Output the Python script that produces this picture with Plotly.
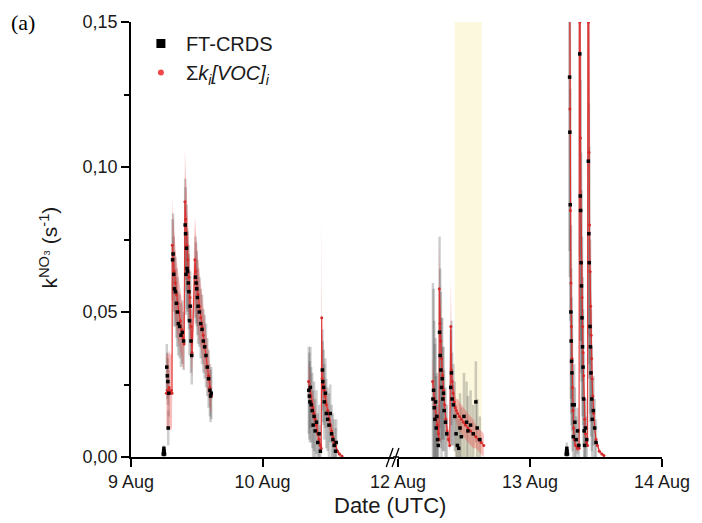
import plotly.graph_objects as go

# ---------------- data (day of August, UTC) ----------------
# Sum k_i[VOC]_i  (model line + uncertainty)
t_voc_09 = [9.269, 9.276, 9.283, 9.290, 9.298, 9.306, 9.312,
            9.314, 9.320, 9.328, 9.336, 9.345, 9.355, 9.365, 9.375, 9.385, 9.395, 9.404,
            9.410, 9.415, 9.420, 9.425, 9.432, 9.440, 9.448, 9.456, 9.464,
            9.486, 9.492, 9.500, 9.510, 9.520, 9.530, 9.540, 9.550, 9.560, 9.570, 9.580, 9.590, 9.600, 9.612]
k_voc_09 = [0.022, 0.023, 0.022, 0.024, 0.022, 0.023, 0.022,
            0.073, 0.068, 0.064, 0.060, 0.056, 0.053, 0.050, 0.047, 0.044, 0.041, 0.039,
            0.088, 0.082, 0.077, 0.073, 0.068, 0.062, 0.055, 0.045, 0.036,
            0.068, 0.064, 0.060, 0.056, 0.052, 0.048, 0.045, 0.042, 0.038, 0.035, 0.031, 0.028, 0.024, 0.021]
u_voc_09 = [0.013, 0.013, 0.013, 0.013, 0.013, 0.013, 0.013,
            0.016, 0.015, 0.014, 0.013, 0.012, 0.012, 0.011, 0.011, 0.010, 0.010, 0.009,
            0.018, 0.017, 0.016, 0.015, 0.014, 0.013, 0.012, 0.010, 0.009,
            0.015, 0.014, 0.013, 0.012, 0.012, 0.011, 0.010, 0.010, 0.009, 0.008, 0.008, 0.007, 0.007, 0.006]

t_voc_10 = [10.350, 10.358, 10.366, 10.374, 10.382, 10.390, 10.400, 10.410, 10.420, 10.430, 10.440, 10.446,
            10.450, 10.453, 10.460, 10.468, 10.476, 10.485, 10.495, 10.505, 10.515, 10.525, 10.535, 10.545,
            10.555, 10.570, 10.585, 10.605]
k_voc_10 = [0.026, 0.024, 0.021, 0.019, 0.017, 0.015, 0.013, 0.011, 0.008, 0.006, 0.004, 0.003,
            0.048, 0.027, 0.025, 0.023, 0.021, 0.018, 0.016, 0.013, 0.011, 0.009, 0.007, 0.005,
            0.004, 0.002, 0.001, 0.0003]
u_voc_10 = [0.006, 0.006, 0.005, 0.005, 0.005, 0.004, 0.004, 0.004, 0.003, 0.003, 0.002, 0.002,
            0.035, 0.006, 0.006, 0.005, 0.005, 0.005, 0.004, 0.004, 0.003, 0.003, 0.003, 0.002,
            0.002, 0.001, 0.001, 0.0005]

t_voc_12 = [12.262, 12.268, 12.275, 12.282, 12.290, 12.298, 12.306, 12.311,
            12.313, 12.318, 12.324, 12.330, 12.337, 12.345, 12.353, 12.362, 12.372, 12.382, 12.392,
            12.400, 12.404, 12.410, 12.418, 12.426, 12.434, 12.442,
            12.452, 12.465, 12.480, 12.495, 12.510, 12.530, 12.550, 12.570, 12.590, 12.610, 12.630, 12.650]
k_voc_12 = [0.026, 0.023, 0.020, 0.017, 0.014, 0.011, 0.008, 0.006,
            0.058, 0.046, 0.040, 0.034, 0.028, 0.023, 0.018, 0.013, 0.009, 0.006, 0.004,
            0.045, 0.030, 0.026, 0.022, 0.019, 0.017, 0.016,
            0.015, 0.014, 0.013, 0.012, 0.011, 0.010, 0.009, 0.008, 0.007, 0.006, 0.005, 0.004]
u_voc_12 = [0.008, 0.007, 0.006, 0.005, 0.004, 0.004, 0.003, 0.003,
            0.016, 0.010, 0.008, 0.007, 0.006, 0.005, 0.004, 0.003, 0.003, 0.002, 0.002,
            0.016, 0.006, 0.005, 0.005, 0.004, 0.004, 0.004,
            0.005, 0.005, 0.005, 0.005, 0.005, 0.005, 0.005, 0.005, 0.004, 0.004, 0.004, 0.004]

t_voc_13 = [13.298, 13.302, 13.306, 13.310, 13.314, 13.318, 13.322, 13.326, 13.330, 13.336, 13.345, 13.360, 13.372,
            13.375, 13.378, 13.382, 13.386, 13.390, 13.394, 13.398, 13.402, 13.406, 13.410, 13.414, 13.420, 13.428, 13.436,
            13.440, 13.443, 13.447, 13.451, 13.455, 13.459, 13.463, 13.467, 13.471, 13.476, 13.482, 13.490, 13.500,
            13.510, 13.525, 13.545, 13.560]
k_voc_13 = [0.200, 0.120, 0.085, 0.060, 0.045, 0.034, 0.024, 0.016, 0.010, 0.006, 0.004, 0.003, 0.003,
            0.250, 0.150, 0.110, 0.085, 0.067, 0.055, 0.045, 0.036, 0.028, 0.020, 0.013, 0.008, 0.005, 0.004,
            0.220, 0.150, 0.105, 0.080, 0.064, 0.052, 0.042, 0.034, 0.027, 0.021, 0.015, 0.010, 0.006,
            0.004, 0.002, 0.001, 0.0005]
u_voc_13 = [0.040, 0.025, 0.018, 0.013, 0.010, 0.008, 0.006, 0.004, 0.003, 0.002, 0.002, 0.001, 0.001,
            0.050, 0.030, 0.022, 0.017, 0.014, 0.011, 0.009, 0.007, 0.006, 0.004, 0.003, 0.002, 0.001, 0.001,
            0.045, 0.030, 0.021, 0.016, 0.013, 0.010, 0.008, 0.007, 0.005, 0.004, 0.003, 0.002, 0.001,
            0.001, 0.001, 0.0005, 0.0003]

# FT-CRDS measurements
t_ft_09 = [9.245, 9.248, 9.250, 9.252, 9.255,
           9.272, 9.276, 9.280, 9.283, 9.287,
           9.316, 9.320, 9.325, 9.330, 9.338, 9.345, 9.352, 9.360, 9.370, 9.380, 9.390, 9.400,
           9.412, 9.415, 9.418, 9.422, 9.426, 9.430, 9.436, 9.440, 9.445, 9.450, 9.456, 9.462,
           9.490, 9.495, 9.500, 9.505, 9.510, 9.520, 9.530, 9.540, 9.550, 9.560, 9.570, 9.580, 9.590, 9.600, 9.605, 9.610]
k_ft_09 = [0.001, 0.002, 0.003, 0.002, 0.001,
           0.031, 0.028, 0.026, 0.010, 0.022,
           0.068, 0.070, 0.063, 0.058, 0.057, 0.053, 0.050, 0.046, 0.045, 0.042, 0.043, 0.040,
           0.080, 0.077, 0.063, 0.072, 0.065, 0.064, 0.060, 0.057, 0.047, 0.052, 0.040, 0.035,
           0.062, 0.060, 0.058, 0.055, 0.052, 0.050, 0.046, 0.044, 0.040, 0.038, 0.035, 0.031, 0.027, 0.023, 0.021, 0.022]
u_ft_09 = [0.001, 0.001, 0.001, 0.001, 0.001,
           0.008, 0.008, 0.008, 0.006, 0.008,
           0.014, 0.014, 0.013, 0.013, 0.012, 0.012, 0.012, 0.011, 0.011, 0.011, 0.011, 0.010,
           0.016, 0.016, 0.014, 0.015, 0.014, 0.014, 0.013, 0.013, 0.012, 0.012, 0.011, 0.010,
           0.014, 0.014, 0.013, 0.013, 0.013, 0.012, 0.012, 0.012, 0.011, 0.011, 0.011, 0.010, 0.010, 0.009, 0.009, 0.009]

t_ft_10 = [10.352, 10.356, 10.360, 10.364, 10.370, 10.378, 10.385, 10.392, 10.400, 10.410, 10.420, 10.430, 10.440,
           10.455, 10.458, 10.465, 10.470, 10.478, 10.485, 10.495, 10.505, 10.515, 10.525, 10.535, 10.545, 10.555, 10.560]
k_ft_10 = [0.023, 0.021, 0.019, 0.024, 0.018, 0.016, 0.011, 0.014, 0.009, 0.012, 0.005, 0.008, 0.002,
           0.030, 0.026, 0.024, 0.019, 0.022, 0.015, 0.013, 0.011, 0.015, 0.008, 0.006, 0.004, 0.002, 0.005]
u_ft_10 = [0.015, 0.015, 0.014, 0.014, 0.013, 0.013, 0.012, 0.012, 0.011, 0.011, 0.010, 0.010, 0.009,
           0.014, 0.014, 0.013, 0.013, 0.012, 0.012, 0.011, 0.011, 0.010, 0.010, 0.009, 0.009, 0.008, 0.008]

t_ft_12 = [12.265, 12.270, 12.275, 12.280, 12.285, 12.290, 12.295, 12.300, 12.305,
           12.315, 12.320, 12.325, 12.330, 12.335, 12.340, 12.345, 12.350, 12.360, 12.370,
           12.400, 12.405, 12.410, 12.420, 12.430,
           12.440, 12.450, 12.460, 12.470, 12.480, 12.500, 12.520, 12.530, 12.550, 12.570, 12.590, 12.600, 12.620]
k_ft_12 = [0.020, 0.023, 0.017, 0.013, 0.019, 0.010, 0.014, 0.006, 0.004,
           0.043, 0.035, 0.030, 0.024, 0.027, 0.020, 0.022, 0.016, 0.012, 0.008,
           0.024, 0.029, 0.020, 0.018, 0.014,
           0.008, 0.004, 0.003, 0.010, 0.007, 0.014, 0.012, 0.009, 0.011, 0.008, 0.019, 0.010, 0.006]
u_ft_12 = [0.040, 0.035, 0.030, 0.026, 0.022, 0.018, 0.015, 0.012, 0.010,
           0.033, 0.030, 0.027, 0.024, 0.021, 0.018, 0.016, 0.014, 0.012, 0.010,
           0.020, 0.018, 0.016, 0.014, 0.012,
           0.010, 0.010, 0.010, 0.012, 0.010, 0.015, 0.014, 0.012, 0.012, 0.010, 0.014, 0.010, 0.008]

t_ft_13 = [13.274, 13.277, 13.279, 13.281, 13.284,
           13.300, 13.302, 13.305, 13.310, 13.312, 13.315, 13.318, 13.322, 13.328, 13.335, 13.340, 13.350, 13.360, 13.370,
           13.377, 13.381, 13.383, 13.387, 13.390, 13.394, 13.398, 13.402, 13.406, 13.410, 13.414, 13.420, 13.430,
           13.442, 13.446, 13.449, 13.455, 13.458, 13.462, 13.468, 13.472, 13.480, 13.490, 13.500]
k_ft_13 = [0.001, 0.002, 0.003, 0.002, 0.001,
           0.131, 0.112, 0.087, 0.050, 0.040, 0.033, 0.029, 0.018, 0.007, 0.018, 0.012, 0.006, 0.009, 0.004,
           0.139, 0.090, 0.085, 0.067, 0.059, 0.048, 0.038, 0.031, 0.020, 0.009, 0.004, 0.010, 0.006,
           0.102, 0.077, 0.067, 0.045, 0.038, 0.029, 0.020, 0.013, 0.016, 0.010, 0.005]
u_ft_13 = [0.001, 0.001, 0.002, 0.001, 0.001,
           0.060, 0.050, 0.040, 0.030, 0.025, 0.022, 0.020, 0.016, 0.012, 0.014, 0.012, 0.008, 0.008, 0.006,
           0.070, 0.050, 0.045, 0.038, 0.033, 0.028, 0.024, 0.020, 0.016, 0.012, 0.008, 0.010, 0.008,
           0.060, 0.045, 0.040, 0.030, 0.026, 0.022, 0.018, 0.014, 0.012, 0.010, 0.008]

# shaded (yellow) period on 12 Aug
shade_start, shade_end = 12.43, 12.635

# axis ticks
y_ticks = [0.0, 0.05, 0.10, 0.15]
y_ticktext = ["0,00", "0,05", "0,10", "0,15"]
y_minor = [0.025, 0.075, 0.125]
x1_ticks, x1_text = [9, 10], ["9 Aug", "10 Aug"]
x2_ticks, x2_text = [12, 13, 14], ["12 Aug", "13 Aug", "14 Aug"]

# ---------------- figure ----------------
W, H = 702, 523
L, R, T, B = 131, 30, 22, 66
PW, PH = W - L - R, H - T - B
FONT = "Liberation Sans, Arial, Helvetica, sans-serif"

def px_x(p):
    return (p - L) / PW

def px_y(p):
    return (H - B - p) / PH

segments = [
    ("x", t_voc_09, k_voc_09, u_voc_09, t_ft_09, k_ft_09, u_ft_09),
    ("x", t_voc_10, k_voc_10, u_voc_10, t_ft_10, k_ft_10, u_ft_10),
    ("x2", t_voc_12, k_voc_12, u_voc_12, t_ft_12, k_ft_12, u_ft_12),
    ("x2", t_voc_13, k_voc_13, u_voc_13, t_ft_13, k_ft_13, u_ft_13),
]

fig = go.Figure()

# grey uncertainty of FT-CRDS (drawn first)
for xa, tv, kv, uv, tf, kf, uf in segments:
    fig.add_trace(go.Scatter(
        x=tf, y=kf, xaxis=xa, yaxis="y", mode="markers",
        marker=dict(size=1, color="rgba(0,0,0,0)"),
        error_y=dict(type="data", array=uf, visible=True, color="rgba(80,80,80,0.28)",
                     thickness=2.5, width=0),
        showlegend=False, hoverinfo="skip"))

# red band + line of sum k[VOC]
for xa, tv, kv, uv, tf, kf, uf in segments:
    up = [a + b for a, b in zip(kv, uv)]
    lo = [max(a - b, 0.0) for a, b in zip(kv, uv)]
    fig.add_trace(go.Scatter(
        x=list(tv) + list(tv[::-1]), y=up + lo[::-1], xaxis=xa, yaxis="y",
        mode="lines", fill="toself", fillcolor="rgba(235,70,70,0.35)",
        line=dict(width=0), showlegend=False, hoverinfo="skip"))
    fig.add_trace(go.Scatter(
        x=tv, y=kv, xaxis=xa, yaxis="y", mode="lines+markers",
        line=dict(color="rgba(225,40,40,0.9)", width=1.2),
        marker=dict(size=3, color="#d42a2a"),
        showlegend=False))

# black FT-CRDS points
for xa, tv, kv, uv, tf, kf, uf in segments:
    fig.add_trace(go.Scatter(
        x=tf, y=kf, xaxis=xa, yaxis="y", mode="markers",
        marker=dict(size=3.5, color="black", symbol="square"),
        showlegend=False))

# legend entries
fig.add_trace(go.Scatter(x=[None], y=[None], mode="markers", name="FT-CRDS",
                         marker=dict(size=9, color="black", symbol="square")))
fig.add_trace(go.Scatter(x=[None], y=[None], mode="markers",
                         name="Σ<i>k<sub>i</sub>[VOC]<sub>i</sub></i>",
                         marker=dict(size=6, color="#f04848", symbol="circle")))

TICKFONT = dict(family=FONT, size=18, color="#1a1a1a")
axis_common = dict(showline=True, linewidth=1.5, linecolor="black", ticks="outside",
                   ticklen=8, tickwidth=1.5, tickcolor="black", showgrid=False,
                   zeroline=False, tickfont=TICKFONT, anchor="y", ticklabeloverflow="allow")

fig.update_layout(
    width=W, height=H, margin=dict(l=L, r=R, t=T, b=B),
    paper_bgcolor="white", plot_bgcolor="white",
    font=dict(family=FONT, color="#1a1a1a"),
    xaxis=dict(domain=[0, px_x(399)], range=[9, 11], tickmode="array",
               tickvals=x1_ticks, ticktext=x1_text, **axis_common),
    xaxis2=dict(domain=[px_x(403), 1], range=[12, 14], tickmode="array",
                tickvals=x2_ticks, ticktext=x2_text, **axis_common),
    yaxis=dict(range=[0, 0.15], tickmode="array", tickvals=y_ticks, ticktext=y_ticktext,
               showline=True, linewidth=1.5, linecolor="black", ticks="outside",
               ticklen=8, tickwidth=1.5, tickcolor="black", showgrid=False, zeroline=False,
               tickfont=TICKFONT,
               minor=dict(tickvals=y_minor, ticks="outside", ticklen=5, tickwidth=1.5,
                          tickcolor="black", showgrid=False)),
    legend=dict(x=px_x(136), y=px_y(24), xanchor="left", yanchor="top",
                bgcolor="rgba(0,0,0,0)", font=dict(family=FONT, size=20, color="#1a1a1a"),
                itemsizing="trace", itemwidth=40),
    showlegend=True,
)

# yellow shaded period
fig.add_shape(type="rect", xref="x2", yref="paper", x0=shade_start, x1=shade_end, y0=0, y1=1,
              fillcolor="rgba(249,246,210,0.75)", line=dict(width=0), layer="below")

# bridge of axis line + break marks
fig.add_shape(type="line", xref="paper", yref="paper", x0=px_x(398), x1=px_x(404), y0=0, y1=0,
              line=dict(color="black", width=1.5))
for dx in (0, 6):
    fig.add_shape(type="line", xref="paper", yref="paper",
                  x0=px_x(391 + dx), y0=px_y(467), x1=px_x(398 + dx), y1=px_y(448),
                  line=dict(color="black", width=1.3))

# texts
fig.add_annotation(text="(a)", xref="paper", yref="paper", x=px_x(7), y=px_y(22),
                   xanchor="left", yanchor="middle", showarrow=False,
                   font=dict(family="Liberation Serif, Times New Roman, serif", size=22, color="black"))
fig.add_annotation(text="k<sup>NO₃</sup> (s<sup>-1</sup>)", xref="paper", yref="paper",
                   x=px_x(47), y=px_y(248), textangle=-90, showarrow=False,
                   xanchor="center", yanchor="middle",
                   font=dict(family=FONT, size=21, color="#1a1a1a"))
fig.add_annotation(text="Date (UTC)", xref="paper", yref="paper", x=px_x(395), y=px_y(505),
                   xanchor="center", yanchor="middle", showarrow=False,
                   font=dict(family=FONT, size=22, color="#1a1a1a"))

fig.write_html("out.html")
